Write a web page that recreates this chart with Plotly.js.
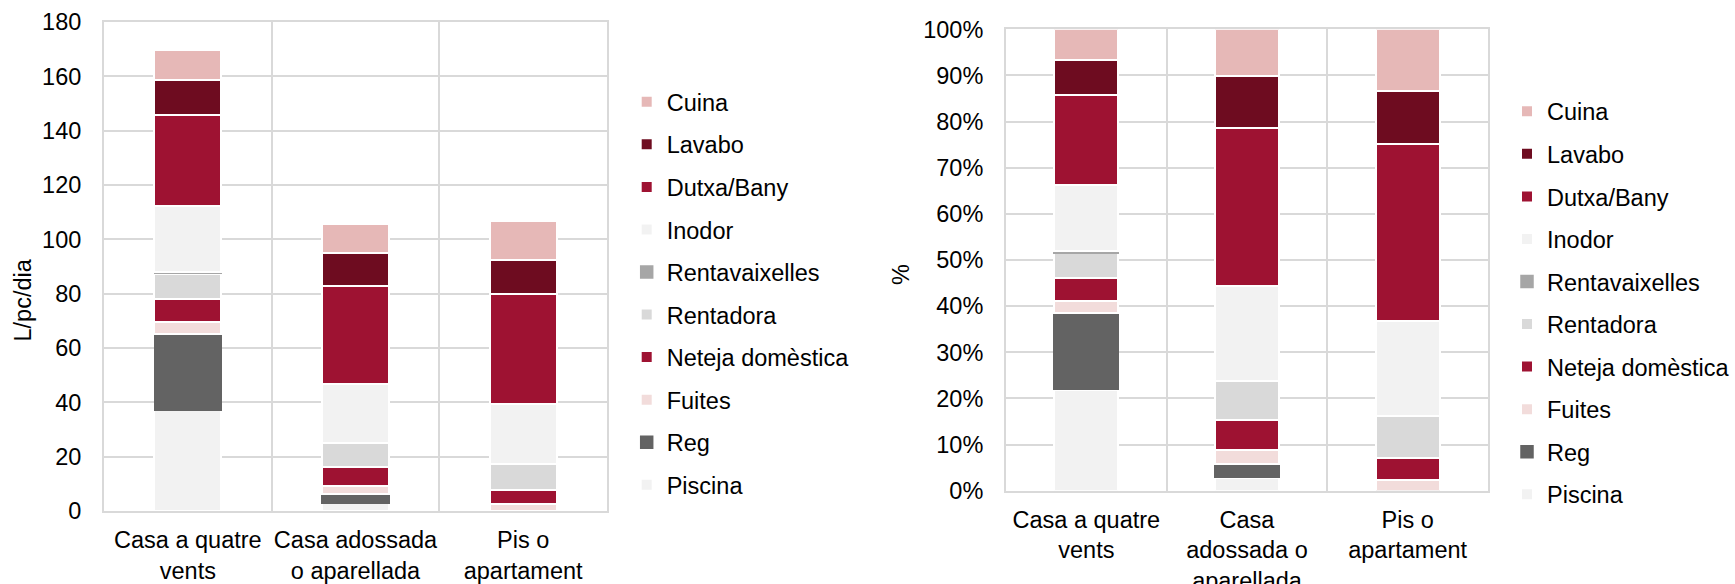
<!DOCTYPE html>
<html>
<head>
<meta charset="utf-8">
<script src="https://cdn.plot.ly/plotly-3.0.1.min.js"></script>
<style>html,body{margin:0;padding:0;background:#fff;}#chart{width:1735px;height:584px;}</style>
</head>
<body>
<div id="chart"></div>
<script>
// Categories and tick labels
const categories = ['Casa a quatre vents', 'Casa adossada o aparellada', 'Pis o apartament'];
const tickLabelsLeft = ['Casa a quatre<br>vents', 'Casa adossada<br>o aparellada', 'Pis o<br>apartament'];
const tickLabelsRight = ['Casa a quatre<br>vents', 'Casa<br>adossada o<br>aparellada', 'Pis o<br>apartament'];

// Series values, L/pc/dia (bottom to top of the stack)
const piscina        = [37.2, 3.0, 0];
const reg            = [28.1, 3.1, 0];
const fuites         = [4.3, 3.2, 2.4];
const neteja         = [8.5, 6.9, 5.2];
const rentadora      = [9.3, 8.9, 9.7];
const rentavaixelles = [0.6, 0, 0];
const inodor         = [24.4, 21.7, 22.0];
const dutxa          = [33.3, 36.2, 40.7];
const lavabo         = [12.8, 11.8, 12.4];
const cuina          = [11.2, 10.8, 14.2];

const seriesNames = ['Piscina', 'Reg', 'Fuites', 'Neteja domèstica', 'Rentadora',
                     'Rentavaixelles', 'Inodor', 'Dutxa/Bany', 'Lavabo', 'Cuina'];
const seriesValues = [piscina, reg, fuites, neteja, rentadora, rentavaixelles, inodor, dutxa, lavabo, cuina];

// Styles
const seriesColors = ['#f2f2f2', '#636363', '#f2dcdb', '#9e1232', '#d9d9d9',
                      '#a6a6a6', '#f2f2f2', '#9e1232', '#6e0c20', '#e6b8b7'];
const lineColors = ['#ffffff', '#636363', '#ffffff', '#ffffff', '#ffffff',
                    '#a6a6a6', '#ffffff', '#ffffff', '#ffffff', '#ffffff'];
const lineWidths = [2, 1.5, 2, 2, 2, 1.5, 2, 2, 2, 2];

const totals = categories.map((c, i) => seriesValues.reduce((s, arr) => s + arr[i], 0));

const FONT = 'Liberation Sans, Arial, sans-serif';
const FS = 23.5;
const W = 1735, H = 584;

const traces = [];
seriesNames.forEach((name, k) => {
  traces.push({
    type: 'bar', name: name, x: categories, y: seriesValues[k],
    xaxis: 'x', yaxis: 'y', legend: 'legend', legendgroup: name,
    legendrank: seriesNames.length - k,
    marker: {color: seriesColors[k], line: {color: lineColors[k], width: lineWidths[k]}},
    hoverinfo: 'x+y+name'
  });
});
seriesNames.forEach((name, k) => {
  traces.push({
    type: 'bar', name: name, x: categories,
    y: seriesValues[k].map((v, i) => v / totals[i] * 100),
    xaxis: 'x2', yaxis: 'y2', legend: 'legend2', legendgroup: name,
    legendrank: seriesNames.length - k,
    marker: {color: seriesColors[k], line: {color: lineColors[k], width: lineWidths[k]}},
    hoverinfo: 'x+y+name'
  });
});

const gridC = '#d9d9d9';
const tickFont = {family: FONT, size: FS, color: '#000000'};

function xAxis(domain, anchor, labels) {
  return {
    domain: domain, anchor: anchor, type: 'category',
    tickmode: 'array', tickvals: categories, ticktext: labels, tickangle: 0,
    tickson: 'boundaries', ticks: '', showgrid: true, gridcolor: gridC, gridwidth: 2,
    showline: true, linecolor: gridC, linewidth: 2, mirror: true,
    tickfont: tickFont, ticklabelstandoff: 7, fixedrange: true
  };
}
function yAxis(domain, anchor, range, dtick, suffix) {
  return {
    domain: domain, anchor: anchor, range: range, dtick: dtick, tick0: 0,
    ticksuffix: suffix, showgrid: true, gridcolor: gridC, gridwidth: 2,
    zeroline: false, showline: true, linecolor: gridC, linewidth: 2, mirror: true,
    ticks: '', tickfont: tickFont, ticklabelstandoff: 16, fixedrange: true
  };
}

const legendBase = {
  orientation: 'v', xanchor: 'left', yanchor: 'top',
  font: {family: FONT, size: FS, color: '#000000'},
  traceorder: 'grouped', tracegroupgap: 9,
  bgcolor: 'rgba(0,0,0,0)', borderwidth: 0
};

const layout = {
  width: W, height: H,
  margin: {l: 0, r: 0, t: 0, b: 0},
  paper_bgcolor: '#ffffff', plot_bgcolor: '#ffffff',
  barmode: 'stack', bargap: 0.6,
  font: {family: FONT, size: FS, color: '#000000'},
  xaxis: xAxis([104 / W, 607 / W], 'y', tickLabelsLeft),
  yaxis: yAxis([1 - 511 / H, 1 - 22 / H], 'x', [0, 180], 20, ''),
  xaxis2: xAxis([1006 / W, 1488 / W], 'y2', tickLabelsRight),
  yaxis2: yAxis([1 - 490.7 / H, 1 - 29.3 / H], 'x2', [0, 100], 10, '%'),
  legend: Object.assign({}, legendBase, {x: 626.7 / W, y: 1 - 80 / H}),
  legend2: Object.assign({}, legendBase, {x: 1507.3 / W, y: 1 - 89.5 / H}),
  annotations: [
    {text: 'L/pc/dia', xref: 'paper', yref: 'paper', x: 22.5 / W, y: 1 - 300 / H,
     xanchor: 'center', yanchor: 'middle', textangle: -90, showarrow: false,
     font: {family: FONT, size: FS, color: '#000000'}},
    {text: '%', xref: 'paper', yref: 'paper', x: 901 / W, y: 1 - 275 / H,
     xanchor: 'center', yanchor: 'middle', textangle: -90, showarrow: false,
     font: {family: FONT, size: FS, color: '#000000'}}
  ]
};

Plotly.newPlot('chart', traces, layout, {displayModeBar: false, staticPlot: false});
</script>
</body>
</html>
